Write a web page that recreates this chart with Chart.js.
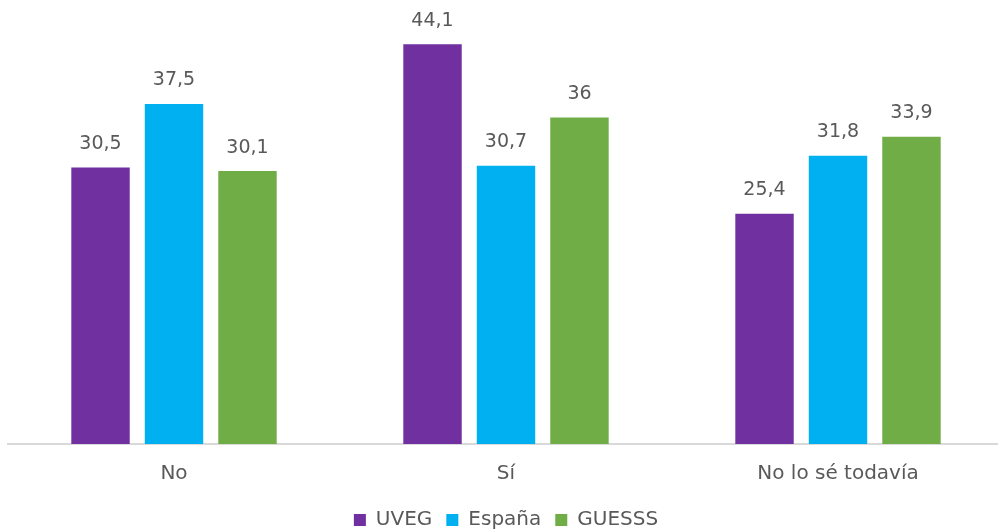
<!DOCTYPE html>
<html>
<head>
<meta charset="utf-8">
<script src="https://cdn.jsdelivr.net/npm/chart.js@4"></script>
<style>
  html, body { margin: 0; padding: 0; background: #fff; overflow: hidden; }
  #wrap { width: 1004px; height: 529px; }
</style>
</head>
<body>
<div id="wrap"><canvas id="chart"></canvas></div>
<script>
// Respuestas por categoría
const categories = ['No', 'Sí', 'No lo sé todavía'];
const uveg = [30.5, 44.1, 25.4];
const espana = [37.5, 30.7, 31.8];
const guesss = [30.1, 36, 33.9];

const TEXT = '#595959';
const FONT = '"DejaVu Sans", sans-serif';

// Valor encima de cada barra, con coma decimal
const valueLabels = {
    id: 'valueLabels',
    afterDatasetsDraw(chart) {
        const ctx = chart.ctx;
        ctx.save();
        ctx.font = '19px ' + FONT;
        ctx.fillStyle = TEXT;
        ctx.textAlign = 'center';
        ctx.textBaseline = 'bottom';
        chart.data.datasets.forEach((ds, i) => {
            chart.getDatasetMeta(i).data.forEach((bar, j) => {
                ctx.fillText(String(ds.data[j]).replace('.', ','), bar.x, bar.y - 14);
            });
        });
        ctx.restore();
    }
};

new Chart(document.getElementById('chart'), {
    type: 'bar',
    data: {
        labels: categories,
        datasets: [
            { label: 'UVEG', data: uveg, backgroundColor: '#7030A0' },
            { label: 'España', data: espana, backgroundColor: '#00B0F0' },
            { label: 'GUESSS', data: guesss, backgroundColor: '#70AD47' },
        ]
    },
    options: {
        responsive: true,
        maintainAspectRatio: false,
        animation: false,
        categoryPercentage: 0.664,
        barPercentage: 0.795,
        layout: { padding: { top: 36, left: 8, right: 0, bottom: -11 } },
        plugins: {
            legend: {
                position: 'bottom',
                labels: {
                    color: TEXT,
                    font: { family: FONT, size: 20 },
                    boxWidth: 12,
                    boxHeight: 12,
                    padding: 14,
                }
            },
            tooltip: { enabled: false },
        },
        scales: {
            x: {
                grid: { display: false },
                border: { display: true, color: '#d9d9d9', width: 2 },
                ticks: { color: TEXT, font: { family: FONT, size: 20 }, padding: 10 },
            },
            y: {
                display: false,
                min: 0,
                max: 45,
            }
        }
    },
    plugins: [valueLabels],
});
</script>
</body>
</html>
